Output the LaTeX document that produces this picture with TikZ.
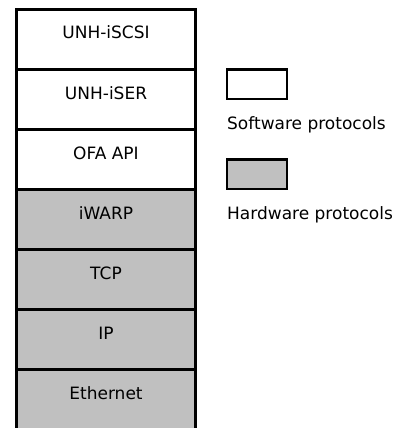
\documentclass[tikz,border=0pt]{standalone}
\usepackage{fontspec}
\setmainfont{DejaVu Sans}
\definecolor{hwgray}{RGB}{192,192,192}
\begin{document}
\begin{tikzpicture}[x=1pt,y=-1pt,
  lab/.style={font=\fontsize{17}{20}\selectfont, inner sep=0pt, anchor=base},
  leg/.style={font=\fontsize{17}{20}\selectfont, inner sep=0pt, anchor=base west},
  thick line/.style={line width=2.5pt},
  legbox/.style={draw, line width=2.5pt}]
\useasboundingbox (0,0) rectangle (400,428);
\clip (0,0) rectangle (400,428);
% hardware fill
\fill[hwgray] (16.5,189.5) rectangle (195.5,432);
% separators
\foreach \yy in {69.5,129.5,189.5,249.5,309.5,369.5}
  \draw[thick line] (16.5,\yy) -- (195.5,\yy);
\draw[thick line] (16.5,432) -- (16.5,9.5) -- (195.5,9.5) -- (195.5,432);
% labels
\node[lab] (iscsi) at (106,39) {UNH-iSCSI};
\node[lab] (iser) at (106,99) {UNH-iSER};
\node[lab] (ofa) at (106,159) {OFA API};
\node[lab] (iwarp) at (106,219) {iWARP};
\node[lab] (tcp) at (106,279) {TCP};
\node[lab] (ip) at (106,339) {IP};
\node[lab] (eth) at (106,399) {Ethernet};
% legend
\draw[legbox, fill=white] (227,69.5) rectangle (287,99);
\draw[legbox, fill=hwgray] (227,159.5) rectangle (287,189);
\node[leg] (sw) at (227,129) {Software protocols};
\node[leg] (hw) at (227,219) {Hardware protocols};
\end{tikzpicture}
\end{document}
